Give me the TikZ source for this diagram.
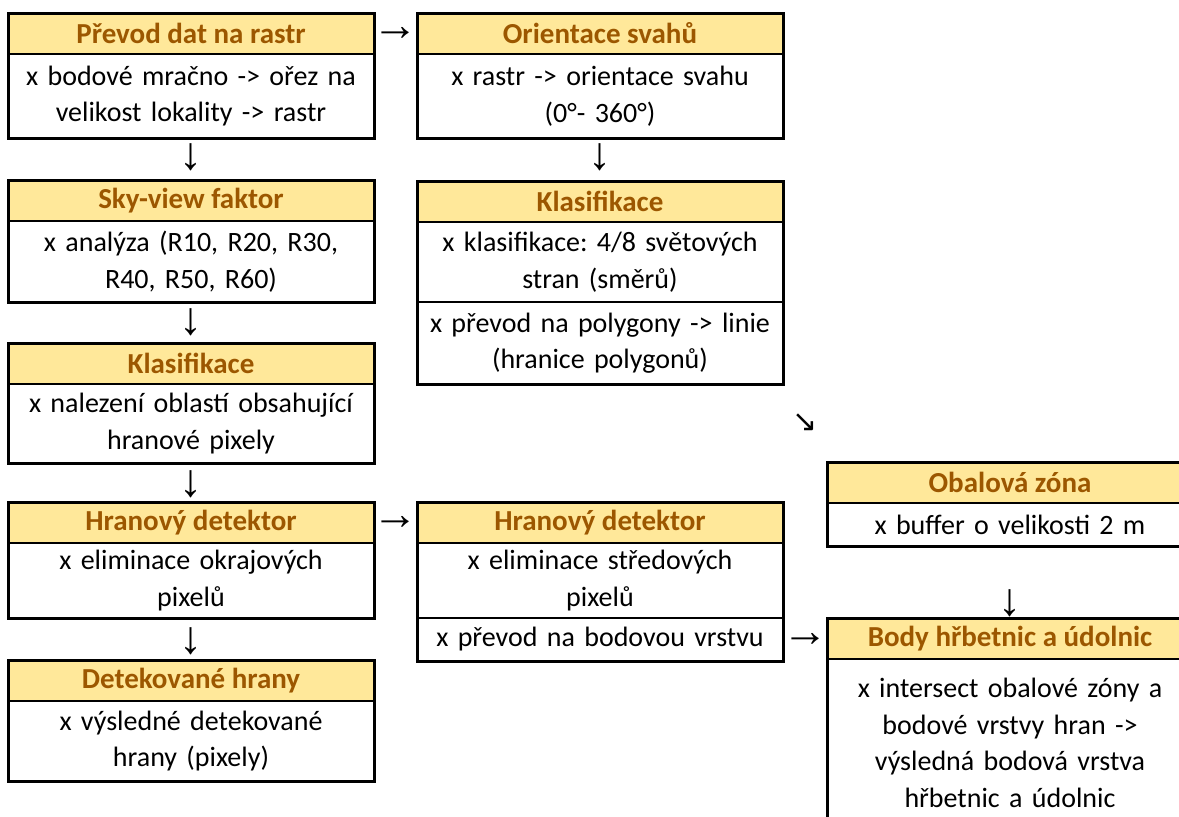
\documentclass[tikz,border=0pt]{standalone}
\usepackage{fontspec}
\setmainfont{Carlito}
\newfontfamily\arrowfont{Liberation Sans}
\newfontfamily\diagfont{DejaVu Sans}
\usepackage{tikz}
\usetikzlibrary{positioning,calc}
\frenchspacing
\definecolor{neutralfill}{HTML}{FFE89A}
\definecolor{neutraltext}{HTML}{9C5700}
\tikzset{
every node/.style={font=\fontsize{14}{18.25}\selectfont, outer sep=0pt}
, headcell/.style={draw, line width=1pt, fill=neutralfill, text=neutraltext, font=\fontsize{14.5}{18.25}\selectfont\bfseries, minimum width=183pt, minimum height=20.5pt, inner sep=0pt, anchor=north}
, bodycell/.style={draw, line width=1pt, fill=white, minimum width=183pt, text width=181pt, align=center, inner sep=0pt}
, frame/.style={line width=1.5pt}
, glyph/.style={font=\fontsize{23}{23}\selectfont\arrowfont, inner sep=0pt}
, diagglyph/.style={font=\fontsize{15}{15}\selectfont\diagfont, inner sep=0pt}}

\begin{document}
\begin{tikzpicture}[x=0.5pt, y=-0.5pt]
\useasboundingbox (0,0) rectangle (1179,816);
\clip (0,0) rectangle (1179,816);
% left column
\node[headcell] at (191,13) (prevodH) {Převod dat na rastr};
\node[bodycell, minimum height=42pt, below=0 of prevodH] (prevodB) {x bodové mračno -> ořez na\\ velikost lokality -> rastr};
\node[headcell] at (191,180) (skyH) {Sky-view faktor};
\node[bodycell, minimum height=40.5pt, below=0 of skyH] (skyB) {x analýza (R10, R20, R30,\\ R40, R50, R60)};
\node[headcell] at (191,343) (klasLH) {Klasifikace};
\node[bodycell, minimum height=39.5pt, below=0 of klasLH] (klasLB) {x nalezení oblastí obsahující\\ hranové pixely};
\node[headcell] at (191,502) (hranLH) {Hranový detektor};
\node[bodycell, minimum height=37.5pt, below=0 of hranLH] (hranLB) {x eliminace okrajových\\ pixelů};
\node[headcell] at (191,660) (detH) {Detekované hrany};
\node[bodycell, minimum height=40pt, below=0 of detH] (detB) {x výsledné detekované\\ hrany (pixely)};
% middle column
\node[headcell] at (600,13) (orientH) {Orientace svahů};
\node[bodycell, minimum height=42pt, below=0 of orientH] (orientB) {x rastr -> orientace svahu\\ (0°- 360°)};
\node[headcell] at (600,181) (klasRH) {Klasifikace};
\node[bodycell, minimum height=40pt, below=0 of klasRH] (klasRB) {x klasifikace: 4/8 světových\\ stran (směrů)};
\node[bodycell, minimum height=41pt, below=0 of klasRB] (klasRC) {x převod na polygony -> linie\\ (hranice polygonů)};
\node[headcell] at (600,502) (hranRH) {Hranový detektor};
\node[bodycell, minimum height=37.5pt, below=0 of hranRH] (hranRB) {x eliminace středových\\ pixelů};
\node[bodycell, minimum height=21.5pt, below=0 of hranRB] (hranRC) {x převod na bodovou vrstvu};
% right column
\node[headcell] at (1010,462) (obalH) {Obalová zóna};
\node[bodycell, minimum height=21.5pt, below=0 of obalH] (obalB) {x buffer o velikosti 2 m};
\node[headcell] at (1010,618) (bodyH) {Body hřbetnic a údolnic};
\node[bodycell, minimum height=84pt, below=0 of bodyH] (bodyB) {x intersect obalové zóny a\\ bodové vrstvy hran ->\\ výsledná bodová vrstva\\ hřbetnic a údolnic};
% outer frames
\draw[frame] (prevodH.north west) rectangle (prevodB.south east);
\draw[frame] (skyH.north west) rectangle (skyB.south east);
\draw[frame] (klasLH.north west) rectangle (klasLB.south east);
\draw[frame] (hranLH.north west) rectangle (hranLB.south east);
\draw[frame] (detH.north west) rectangle (detB.south east);
\draw[frame] (orientH.north west) rectangle (orientB.south east);
\draw[frame] (klasRH.north west) rectangle (klasRC.south east);
\draw[frame] (hranRH.north west) rectangle (hranRC.south east);
\draw[frame] (obalH.north west) rectangle (obalB.south east);
\draw[frame] (bodyH.north west) rectangle (bodyB.south east);
% arrows between the boxes
\node[glyph] at ($(prevodH.east)!0.5!(orientH.west)$) (a1) {→};
\node[glyph] at ($(hranLH.east)!0.5!(hranRH.west)$) (a2) {→};
\node[glyph] at ($(hranRC.east)!0.5!(bodyH.west |- hranRC.east)$) (a3) {→};
\node[glyph] at ($(prevodB.south)!0.45!(skyH.north)$) (d1) {↓};
\node[glyph] at ($(skyB.south)!0.5!(klasLH.north)$) (d2) {↓};
\node[glyph] at ($(klasLB.south)!0.55!(hranLH.north)$) (d3) {↓};
\node[glyph] at ($(hranLB.south)!0.55!(detH.north)$) (d4) {↓};
\node[glyph] at ($(orientB.south)!0.45!(klasRH.north)$) (d5) {↓};
\node[glyph] at ($(obalB.south)!0.8!(bodyH.north)$) (d6) {↓};
\node[diagglyph] at ($(klasRC.south east)!0.5!(obalH.north west)$) (s1) {↘};
\end{tikzpicture}
\end{document}
